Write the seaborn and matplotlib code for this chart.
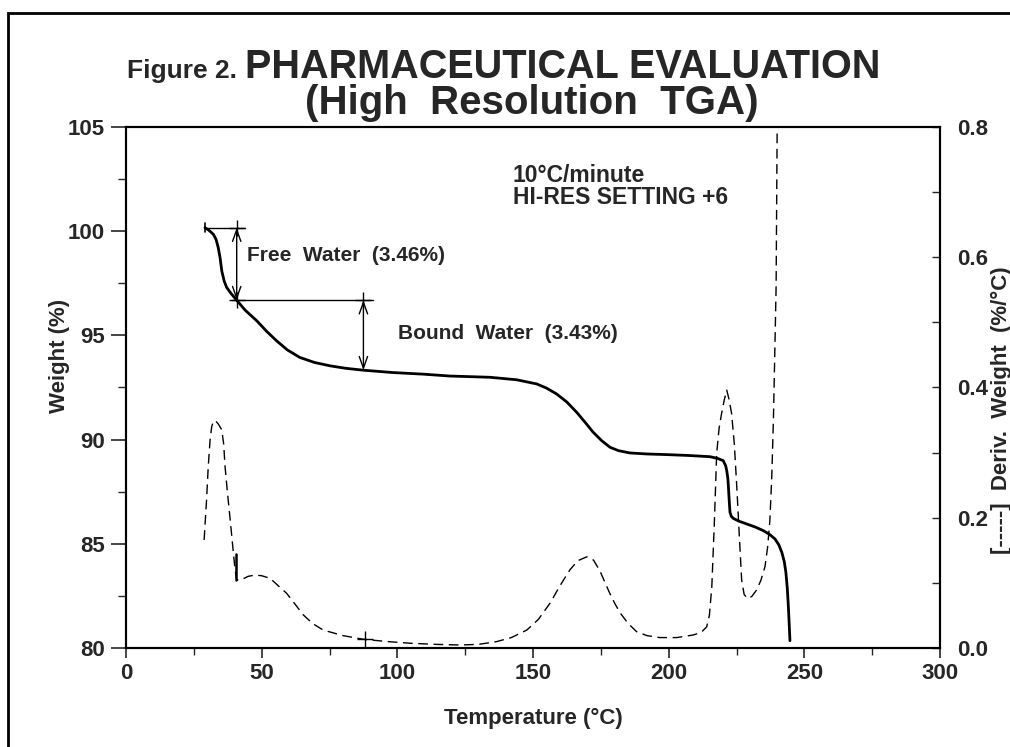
#!/usr/bin/env python3
# tga_hires.py - high resolution TGA trace with derivative weight

import logging
import os
os.environ.setdefault("MPLCONFIGDIR", "/tmp/.config/matplotlib")
os.makedirs(os.environ["MPLCONFIGDIR"], exist_ok=True)
import matplotlib

matplotlib.use("Agg")
logging.getLogger("matplotlib.font_manager").setLevel(logging.ERROR)

import numpy as np
import matplotlib.pyplot as plt
from matplotlib.patches import Rectangle
from matplotlib.ticker import MultipleLocator, FormatStrFormatter
import seaborn as sns

sns.set_theme(style="ticks")
plt.rcParams["font.family"] = ["Liberation Sans", "DejaVu Sans"]
plt.rcParams["font.weight"] = "bold"

# weight trace (solid)
weight_temp = [29.1, 30.5, 32.2, 33.2, 34.0, 34.7, 35.3, 36.2, 37.1, 38.8, 40.8, 44.0,
               48.2, 51.8, 55.5, 59.5, 64.1, 69.5, 75.2, 81.0, 87.5, 98.0, 109.6, 119.4,
               134.2, 144.0, 151.4, 155.0, 158.7, 162.5, 166.1, 169.2, 172.2, 175.3, 178.4,
               181.5, 185.7, 192.0, 199.3, 207.0, 215.2, 218.0, 220.1, 221.0, 221.4, 221.8,
               222.0, 222.3, 222.6, 223.1, 223.8, 226.0, 228.8, 232.0, 234.9, 237.2, 239.2,
               240.6, 241.7, 242.6, 243.2, 243.7, 244.1, 244.4, 244.7]
weight_pct = [100.17, 100.05, 99.85, 99.6, 99.21, 98.7, 98.09, 97.6, 97.30, 97.0, 96.69, 96.2,
              95.70, 95.2, 94.74, 94.3, 93.94, 93.7, 93.54, 93.42, 93.33, 93.22, 93.14, 93.05,
              92.99, 92.87, 92.67, 92.47, 92.19, 91.8, 91.31, 90.83, 90.35, 89.95, 89.63,
              89.47, 89.36, 89.31, 89.28, 89.24, 89.18, 89.1, 88.99, 88.75, 88.51, 88.15,
              87.79, 87.1, 86.51, 86.32, 86.22, 86.08, 85.95, 85.8, 85.63, 85.45, 85.23,
              84.95, 84.59, 84.15, 83.63, 82.9, 82.03, 81.2, 80.35]

# derivative weight trace (dashed), %/degC
deriv_temp = [28.8, 29.2, 29.7, 30.3, 31.0, 31.6, 32.2, 33.0, 34.0, 35.3, 36.0, 36.5, 37.4,
              38.3, 39.0, 39.6, 40.2, 40.8, 41.5, 42.6, 45.0, 47.5, 50.0, 53.1, 56.0, 59.2,
              62.0, 65.3, 68.8, 72.7, 80.0, 87.5, 96.0, 104.7, 114.0, 123.1, 130.0, 136.6,
              142.0, 147.7, 152.0, 156.3, 160.0, 163.6, 166.5, 169.8, 172.3, 174.7, 176.6,
              178.4, 180.2, 182.1, 185.0, 188.2, 192.0, 196.8, 203.0, 209.1, 212.0, 214.0,
              215.0, 215.9, 216.8, 217.7, 218.6, 219.5, 220.5, 221.4, 222.3, 223.2, 224.2,
              225.1, 226.0, 226.9, 227.8, 229.0, 230.6, 232.4, 234.0, 235.5, 236.5, 237.3,
              238.0, 238.6, 239.1, 239.6, 240.0, 240.3]
deriv_val = [0.166, 0.194, 0.228, 0.278, 0.32, 0.34, 0.348, 0.349, 0.344, 0.335, 0.313, 0.279,
             0.238, 0.201, 0.171, 0.145, 0.12, 0.105, 0.104, 0.105, 0.11, 0.112, 0.111,
             0.107, 0.096, 0.084, 0.069, 0.051, 0.0375, 0.0275, 0.019, 0.0134, 0.010, 0.0073,
             0.0056, 0.0046, 0.0056, 0.0098, 0.016, 0.0275, 0.044, 0.069, 0.096, 0.12, 0.134,
             0.14, 0.135, 0.118, 0.10, 0.083, 0.068, 0.054, 0.038, 0.025, 0.019, 0.016, 0.016,
             0.02, 0.024, 0.0325, 0.05, 0.094, 0.188, 0.299, 0.338, 0.36, 0.381, 0.396, 0.381,
             0.36, 0.313, 0.248, 0.175, 0.1045, 0.0825, 0.076, 0.079, 0.089, 0.104, 0.125, 0.156,
             0.196, 0.263, 0.35, 0.45, 0.555, 0.81, 0.95]

# step annotation points
free_start = (40.8, 100.17)
free_end = (40.8, 96.69)
bound_start = (87.5, 96.69)
bound_end = (87.5, 93.33)

fig = plt.figure(figsize=(10.10, 7.47), dpi=100)
ax = fig.add_axes([126 / 1010, 1 - 648 / 747, 814 / 1010, 521 / 747])
ax2 = ax.twinx()

sns.lineplot(x=weight_temp, y=weight_pct, ax=ax, color="black", lw=2.0,
             sort=False, estimator=None)
sns.lineplot(x=deriv_temp, y=deriv_val, ax=ax2, color="black", lw=1.0,
             sort=False, estimator=None, dashes=False, linestyle=(0, (7, 4)))

# free / bound water markers
ax.plot([29.1, 43.9], [free_start[1], free_start[1]], color="black", lw=1.0)
ax.plot([29.1, 29.1], [99.95, 100.4], color="black", lw=1.2)
ax.plot([39.0, 90.9], [free_end[1], free_end[1]], color="black", lw=1.0)
for p0, p1 in [(free_start, free_end), (bound_start, bound_end)]:
    ax.annotate("", xy=p1, xytext=p0,
                arrowprops=dict(arrowstyle="<->,head_length=0.7,head_width=0.25",
                                color="black", lw=1.0, shrinkA=0, shrinkB=0))
ax.plot([free_start[0], free_end[0], bound_start[0]],
        [free_start[1], free_end[1], bound_start[1]],
        ls="none", marker="+", ms=12, mew=1.0, color="black")
ax2.plot([88.1], [0.0134], ls="none", marker="+", ms=12, mew=1.0, color="black")
ax2.plot([40.6, 40.6], [0.105, 0.144], color="black", lw=1.8)

ax.text(44.5, 98.83, "Free  Water  (3.46%)", fontsize=15, fontweight="bold", va="center")
ax.text(100.3, 95.07, "Bound  Water  (3.43%)", fontsize=15, fontweight="bold", va="center")
ax.text(142.6, 102.66, "10\u00b0C/minute", fontsize=16.5, fontweight="bold", va="center")
ax.text(142.6, 101.6, "HI-RES SETTING +6", fontsize=16.5, fontweight="bold", va="center")

ax.set_xlim(0, 300)
ax.set_ylim(80, 105)
ax2.set_ylim(0, 0.8)
ax.xaxis.set_major_locator(MultipleLocator(50))
ax.xaxis.set_minor_locator(MultipleLocator(25))
ax.yaxis.set_major_locator(MultipleLocator(5))
ax.yaxis.set_minor_locator(MultipleLocator(2.5))
ax2.yaxis.set_major_locator(MultipleLocator(0.2))
ax2.yaxis.set_minor_locator(MultipleLocator(0.1))
ax2.yaxis.set_major_formatter(FormatStrFormatter("%.1f"))

ax.tick_params(axis="x", which="major", direction="out", length=7, width=1.2,
               labelsize=16, pad=4, top=False)
ax.tick_params(axis="x", which="minor", direction="out", length=5, width=1.0, top=False)
ax.tick_params(axis="y", which="major", direction="out", length=11, width=1.2,
               labelsize=16, pad=4, right=False)
ax.tick_params(axis="y", which="minor", direction="out", length=6, width=1.0, right=False)
ax2.tick_params(axis="y", which="both", direction="in", length=6, width=1.0,
                labelsize=16, pad=12)
for lab in ax.get_xticklabels() + ax.get_yticklabels() + ax2.get_yticklabels():
    lab.set_fontweight("bold")

for a in (ax, ax2):
    for s in a.spines.values():
        s.set_color("black")
        s.set_linewidth(1.5)

ax.set_xlabel("Temperature (\u00b0C)", fontsize=16, fontweight="bold", labelpad=17)
ax.set_ylabel("Weight (%)", fontsize=16, fontweight="bold")
ax.yaxis.set_label_coords(-0.069, 0.56)
ax2.set_ylabel("")
fig.text(1001 / 1010, 1 - 410 / 747, "[-----]  Deriv.  Weight  (%/\u00b0C)", rotation=90,
         fontsize=16, fontweight="bold", ha="center", va="center")

# title in two sizes
title_fam = ["Liberation Sans Narrow", "Liberation Sans"]
fig.text(237 / 1010, 1 - 78 / 747, "Figure 2.", fontsize=19, fontweight="bold",
         ha="right", va="baseline", family=title_fam)
fig.text(245 / 1010, 1 - 78 / 747, "PHARMACEUTICAL EVALUATION", fontsize=28.5,
         fontweight="bold", ha="left", va="baseline", family=title_fam)
fig.text(532 / 1010, 1 - 114 / 747, "(High  Resolution  TGA)", fontsize=29,
         fontweight="bold", ha="center", va="baseline", family=title_fam)

# page frame
fig.patches.append(Rectangle((8 / 1010, -0.1), 1.2, 1.1 - 13 / 747, transform=fig.transFigure,
                             fill=False, edgecolor="black", lw=2.0))

fig.savefig("out.png", dpi=100)
plt.close(fig)
